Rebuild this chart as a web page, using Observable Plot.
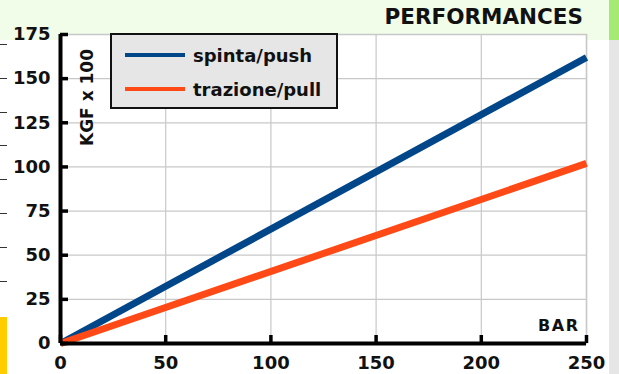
<!DOCTYPE html>
<html><head><meta charset="utf-8">
<script src="https://cdn.jsdelivr.net/npm/d3@7"></script>
<script src="https://cdn.jsdelivr.net/npm/@observablehq/plot@0.6"></script>
<style>
html,body{margin:0;padding:0;background:#fff;}
#wrap{position:relative;width:619px;height:374px;overflow:hidden;font-family:"DejaVu Sans",Verdana,sans-serif;font-weight:bold;}
.abs{position:absolute;}
</style></head>
<body>
<div id="wrap">
  <div class="abs" style="left:0;top:0;width:609px;height:40px;background:#f2fde9"></div>
  <div class="abs" style="left:609px;top:0;width:10px;height:40px;background:#a4ea74"></div>
  <div class="abs" style="left:609px;top:40px;width:10px;height:334px;background:#e6e6e6"></div>
  <div class="abs" style="left:0;top:44px;width:7px;height:240px;background:repeating-linear-gradient(to bottom,#333 0,#333 1px,transparent 1px,transparent 33.8px)"></div>
  <div class="abs" style="left:0;top:317px;width:7px;height:57px;background:#ffcc00"></div>
  <div id="chart" class="abs" style="left:0;top:0"></div>
  <div class="abs" id="title" style="right:36px;top:4px;font-size:21.5px;color:#111;">PERFORMANCES</div>
  <div class="abs" id="legend" style="left:110px;top:33px;width:224px;height:72px;background:#e6e6e6;border:2px solid #111;"></div>
</div>
<script>
// data
const bar = [0, 250];
const push = [0, 162];
const pull = [0, 102];
const seriesNames = ["spinta/push", "trazione/pull"];
const seriesColors = ["#02468a", "#ff4a17"];
const xTicks = [0, 50, 100, 150, 200, 250];
const yTicks = [0, 25, 50, 75, 100, 125, 150, 175];
const yLabel = "KGF x 100";
const xLabel = "BAR";

const rows = [];
bar.forEach((b, i) => {
  rows.push({bar: b, value: push[i], series: seriesNames[0]});
  rows.push({bar: b, value: pull[i], series: seriesNames[1]});
});

const chart = Plot.plot({
  width: 619, height: 374,
  marginLeft: 60, marginRight: 33, marginTop: 34, marginBottom: 31,
  style: {background: "transparent", fontFamily: "DejaVu Sans, sans-serif", fontWeight: "bold", fontSize: "18px", color: "#111"},
  x: {domain: [0, 250]},
  y: {domain: [0, 175]},
  marks: [
    Plot.frame({fill: "white", stroke: "#c8c8c8", strokeWidth: 1.5}),
    Plot.gridX(xTicks, {stroke: "#c8c8c8", strokeOpacity: 1, strokeWidth: 1.2}),
    Plot.gridY(yTicks, {stroke: "#c8c8c8", strokeOpacity: 1, strokeWidth: 1.2}),
    Plot.line(rows.filter(d => d.series === seriesNames[0]), {x: "bar", y: "value", stroke: seriesColors[0], strokeWidth: 7, strokeLinecap: "butt"}),
    Plot.line(rows.filter(d => d.series === seriesNames[1]), {x: "bar", y: "value", stroke: seriesColors[1], strokeWidth: 7, strokeLinecap: "butt"}),
    Plot.ruleX([0], {stroke: "#000", strokeWidth: 4}),
    Plot.ruleY([0], {stroke: "#000", strokeWidth: 4}),
    Plot.axisY(yTicks, {tickSize: -8, tickPadding: 18, strokeWidth: 3.5, stroke: "#000", label: null, fontSize: 18, fontWeight: "bold"}),
    Plot.axisX(xTicks, {tickSize: -8, strokeWidth: 3.5, stroke: "#000", label: null, text: null}),
    Plot.text(xTicks, {x: d => d, frameAnchor: "bottom", dy: 20, lineAnchor: "middle", text: d => String(d), fontSize: 18, fontWeight: "bold", fill: "#111"}),
    Plot.text([yLabel], {frameAnchor: "top-left", rotate: -90, dx: 20, dy: 63, text: d => d, fontSize: 17, fontWeight: "bold", fill: "#111", textAnchor: "middle"}),
    Plot.text([xLabel], {frameAnchor: "bottom-right", dx: -7, dy: -13, text: d => d, fontSize: 16, fontWeight: "bold", fill: "#111", textAnchor: "end", lineAnchor: "bottom"})
  ]
});
document.getElementById("chart").appendChild(chart);
d3.select(chart).selectAll("text").filter(function(){ return this.textContent === xLabel; }).style("letter-spacing", "1.5px");

// legend
const leg = document.getElementById("legend");
seriesNames.forEach((name, i) => {
  const row = document.createElement("div");
  row.style.cssText = `position:absolute;left:13px;top:${9 + i * 34}px;height:22px;display:flex;align-items:center;font-size:18px;color:#111;`;
  row.innerHTML = `<span style="display:inline-block;width:60px;height:3.5px;background:${seriesColors[i]};margin-right:8px"></span>${name}`;
  leg.appendChild(row);
});
</script>
</body></html>
